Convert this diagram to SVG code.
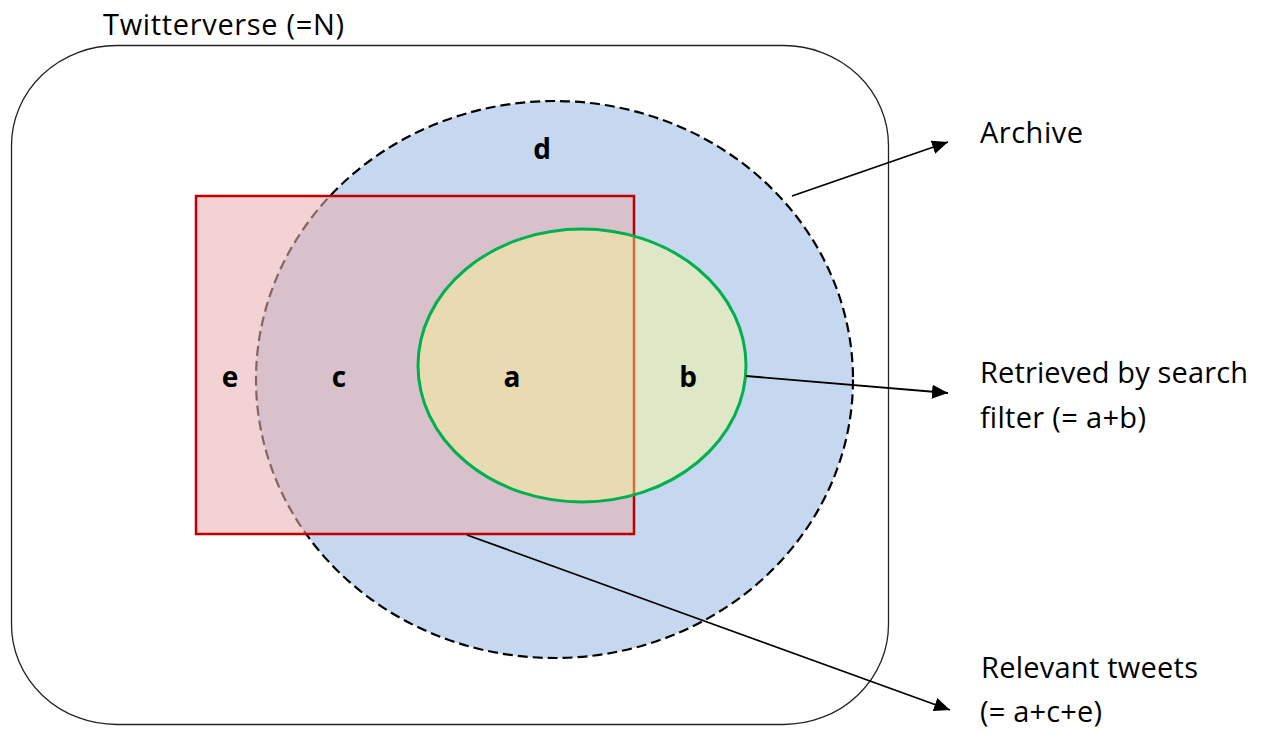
<svg xmlns="http://www.w3.org/2000/svg" width="1261" height="733" viewBox="0 0 1261 733">
<style>
.txt{font-family:"Open Sans","Liberation Sans",sans-serif;font-size:29px;fill:#000}
.lbl{font-family:"Open Sans","Liberation Sans",sans-serif;font-size:28px;font-weight:bold;fill:#000;text-anchor:middle}
.conn{stroke:#000;stroke-width:1.8;fill:none;marker-end:url(#arrow)}
</style>
<defs>
<marker id="arrow" markerUnits="userSpaceOnUse" markerWidth="18" markerHeight="14" refX="16" refY="7" orient="auto">
<path d="M0,0 L16,7 L0,14 Z" fill="#000"/>
</marker>
</defs>
<rect width="1261" height="733" fill="#fff"/>
<g id="twitterverse">
<rect x="11.5" y="45.5" width="877" height="679" rx="105" ry="100" fill="none" stroke="#222" stroke-width="1.3"/>
<text class="txt" x="103" y="35" textLength="241">Twitterverse (=N)</text>
</g>
<g id="archive">
<ellipse cx="554.5" cy="379.5" rx="298.5" ry="278.5" fill="#C6D8EF" stroke="#000" stroke-width="2.2" stroke-dasharray="10,5"/>
<text class="lbl" x="542" y="159">d</text>
</g>
<g id="relevant">
<rect x="196" y="196" width="438" height="338" fill="#E8B0B0" fill-opacity="0.57" stroke="#C00000" stroke-width="2.5"/>
<text class="lbl" x="230" y="387">e</text>
<text class="lbl" x="339" y="387">c</text>
</g>
<g id="retrieved">
<ellipse cx="582" cy="365.5" rx="164" ry="136.5" fill="#FFFF8C" fill-opacity="0.42" stroke="#00B050" stroke-width="3"/>
<text class="lbl" x="512" y="387">a</text>
<text class="lbl" x="688" y="387">b</text>
</g>
<g id="connectors">
<line class="conn" x1="792" y1="196" x2="948" y2="142"/>
<line class="conn" x1="746" y1="376" x2="948" y2="393"/>
<line class="conn" x1="467" y1="535" x2="950" y2="710"/>
</g>
<g id="labels">
<text class="txt" x="980" y="143" textLength="103">Archive</text>
<text class="txt" x="980" y="383" textLength="268">Retrieved by search</text>
<text class="txt" x="980" y="428" textLength="166">filter (= a+b)</text>
<text class="txt" x="981" y="678" textLength="217">Relevant tweets</text>
<text class="txt" x="980" y="722" textLength="122">(= a+c+e)</text>
</g>
</svg>
